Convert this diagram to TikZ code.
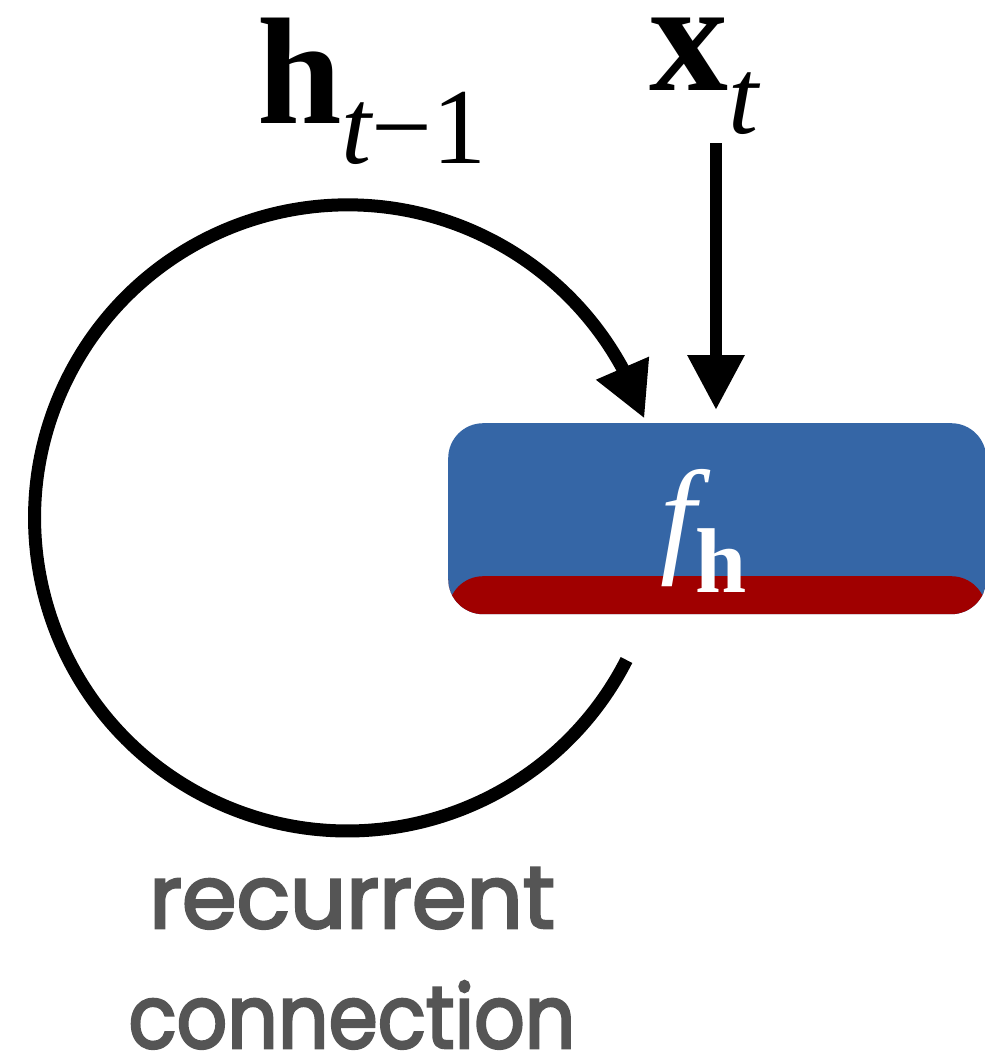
\documentclass[tikz,border=0pt]{standalone}
\usepackage{fontspec}
\setmainfont{Liberation Serif}
\newfontfamily\labelfont{Poppins}[FakeBold=3]
\usetikzlibrary{arrows.meta,bending}
\definecolor{boxblue}{HTML}{3566A6}
\definecolor{boxred}{HTML}{A00000}
\definecolor{labelgray}{HTML}{555555}
\tikzset{
  arr/.style={line width=12.5pt,-{Triangle[length=55pt,width=54pt]}},
  mathtext/.style={inner sep=0pt,anchor=base west,text=black},
}
\begin{document}
\begin{tikzpicture}[x=1pt,y=-1pt]
\useasboundingbox (0,0) rectangle (985,1058);
% box
\node[fill=boxblue,rounded corners=35pt,minimum width=538pt,minimum height=191pt,
  inner sep=0pt,anchor=north west,
  path picture={\fill[boxred] (path picture bounding box.south west) rectangle
    ([yshift=38pt]path picture bounding box.south east);}] (fh) at (448,423) {};
\node[mathtext,text=white] (fhlabel) at (660,559)
  {{\fontsize{128}{128}\selectfont\itshape f}{\fontsize{92}{92}\selectfont\bfseries\raisebox{-33pt}{h}}};
% labels
\node[mathtext] (hprev) at (257,123)
  {\smash{{\fontsize{152}{152}\selectfont\bfseries h}\raisebox{-40pt}{\fontsize{108}{108}\selectfont\itshape t\upshape\char"2212 1}}};
\node[mathtext] (xt) at (649,90)
  {\smash{{\fontsize{158}{158}\selectfont\bfseries x}\raisebox{-43pt}{\fontsize{108}{108}\selectfont\itshape t}}};
% input arrow
\coordinate (xin) at (716,143);
\coordinate (xtip) at (716,410);
\draw[arr] (xin) -- (xtip);
% recurrent arc
\coordinate (arcstart) at (626.5,660.0);
\draw[arr,line width=13pt] (arcstart) arc[start angle=27,end angle=341.5,radius=313];
% caption
\node[inner sep=0pt,anchor=base,align=center,text=labelgray,
  font=\labelfont\fontsize{88}{120}\selectfont] (cap) at (352,1048)
  {recurrent\\\scalebox{0.9}[1]{connection}};
\end{tikzpicture}
\end{document}
